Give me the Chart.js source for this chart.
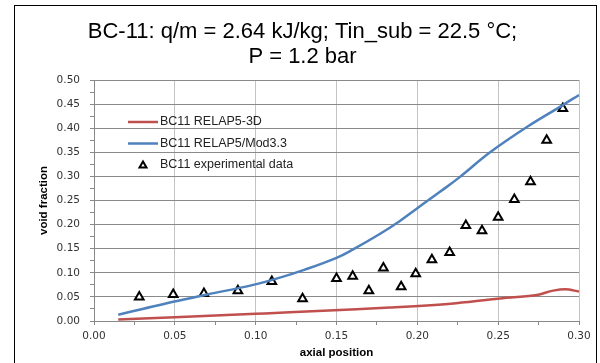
<!DOCTYPE html>
<html>
<head>
<meta charset="utf-8">
<script src="https://cdn.jsdelivr.net/npm/chart.js@4.4.0/dist/chart.umd.min.js"></script>
<style>
  html, body { margin: 0; padding: 0; background: #fff; }
  #wrap { width: 600px; height: 363px; }
</style>
</head>
<body>
<div id="wrap"><canvas id="c" width="600" height="363"></canvas></div>
<script>
// data
const titleLines = ['BC-11: q/m = 2.64 kJ/kg; Tin_sub = 22.5 °C;', 'P = 1.2 bar'];
const seriesNames = ['BC11 RELAP5-3D', 'BC11 RELAP5/Mod3.3', 'BC11 experimental data'];

const redX = [0.015, 0.05, 0.10, 0.121, 0.152, 0.183, 0.224, 0.255, 0.274, 0.284, 0.2915, 0.30];
const redY = [0.003, 0.008, 0.015, 0.018, 0.023, 0.028, 0.037, 0.048, 0.054, 0.063, 0.066, 0.061];

const blueX = [0.015, 0.03, 0.049, 0.07, 0.0985, 0.115, 0.13, 0.15, 0.16, 0.177, 0.189, 0.200, 0.214, 0.226, 0.245, 0.268, 0.29, 0.30];
const blueY = [0.013, 0.025, 0.040, 0.055, 0.075, 0.090, 0.106, 0.131, 0.148, 0.181, 0.207, 0.234, 0.268, 0.298, 0.350, 0.403, 0.448, 0.469];

const expX = [0.028, 0.049, 0.068, 0.089, 0.110, 0.129, 0.150, 0.160, 0.170, 0.179, 0.190, 0.199, 0.209, 0.220, 0.230, 0.240, 0.250, 0.260, 0.270, 0.280, 0.290];
const expY = [0.050, 0.055, 0.057, 0.063, 0.082, 0.046, 0.088, 0.093, 0.063, 0.110, 0.071, 0.098, 0.127, 0.142, 0.198, 0.187, 0.215, 0.252, 0.289, 0.375, 0.441];

const toPoints = (xs, ys) => xs.map((x, i) => ({ x: x, y: ys[i] }));

const FONT = 'Liberation Sans, Arial, sans-serif';
const TICK_FONT = 'DejaVu Sans, Verdana, sans-serif';

// outer frame like the spreadsheet chart border
const framePlugin = {
    id: 'frame',
    afterDraw(chart) {
        const ctx = chart.ctx;
        ctx.save();
        ctx.strokeStyle = '#000';
        ctx.lineWidth = 1;
        ctx.strokeRect(14.5, 5.5, 582, 380);
        ctx.restore();
    }
};

// legend drawn inside the plot, upper left
const innerLegend = {
    id: 'innerLegend',
    afterDatasetsDraw(chart) {
        const ctx = chart.ctx;
        const a = chart.chartArea;
        ctx.save();
        ctx.font = '12.5px ' + FONT;
        ctx.fillStyle = '#222';
        ctx.textBaseline = 'middle';
        chart.data.datasets.forEach((ds, i) => {
            const y = a.top + 42 + i * 21.5;
            if (ds.showLine) {
                ctx.strokeStyle = ds.borderColor;
                ctx.lineWidth = 2.5;
                ctx.beginPath();
                ctx.moveTo(a.left + 34, y);
                ctx.lineTo(a.left + 64, y);
                ctx.stroke();
            } else {
                const cx = a.left + 49;
                ctx.strokeStyle = '#000';
                ctx.lineWidth = 2;
                ctx.fillStyle = '#fff';
                ctx.beginPath();
                ctx.moveTo(cx, y - 3.5);
                ctx.lineTo(cx + 3.5, y + 2.5);
                ctx.lineTo(cx - 3.5, y + 2.5);
                ctx.closePath();
                ctx.fill();
                ctx.stroke();
                ctx.fillStyle = '#222';
            }
            ctx.fillText(ds.label, a.left + 66, y);
        });
        ctx.restore();
    }
};

const minorParity = (c) => c.index % 2 === 1;

new Chart(document.getElementById('c'), {
    type: 'scatter',
    data: {
        datasets: [
            {
                label: seriesNames[0],
                data: toPoints(redX, redY),
                showLine: true,
                borderColor: '#C0504D',
                borderWidth: 2.5,
                pointRadius: 0,
                cubicInterpolationMode: 'monotone'
            },
            {
                label: seriesNames[1],
                data: toPoints(blueX, blueY),
                showLine: true,
                borderColor: '#4F81BD',
                borderWidth: 2.5,
                pointRadius: 0,
                tension: 0.4
            },
            {
                label: seriesNames[2],
                data: toPoints(expX, expY),
                showLine: false,
                pointStyle: 'triangle',
                pointRadius: 5,
                pointBorderWidth: 2,
                pointBorderColor: '#000',
                pointBackgroundColor: '#fff'
            }
        ]
    },
    options: {
        responsive: false,
        animation: false,
        layout: { padding: { left: 26, right: 21, top: 0, bottom: 0 } },
        plugins: {
            legend: { display: false },
            tooltip: { enabled: false },
            title: {
                display: true,
                text: titleLines,
                color: '#000',
                font: { family: FONT, size: 22, weight: 'normal', lineHeight: '25px' },
                padding: { top: 19, bottom: 11 }
            }
        },
        scales: {
            x: {
                type: 'linear',
                min: 0,
                max: 0.30,
                afterFit(scale) { scale.height = 42; },
                ticks: {
                    stepSize: 0.025,
                    autoSkip: false,
                    maxRotation: 0,
                    color: '#333',
                    font: { family: TICK_FONT, size: 10.5 },
                    padding: 5,
                    callback: (v, i) => i % 2 === 0 ? v.toFixed(2) : ''
                },
                grid: {
                    color: c => minorParity(c) ? 'rgba(0,0,0,0)' : '#c4c4c4',
                    tickColor: '#888',
                    tickLength: 4,
                    lineWidth: 1
                },
                border: { color: '#888' },
                title: {
                    display: true,
                    text: 'axial position',
                    color: '#000',
                    font: { family: FONT, size: 11.5, weight: 'bold' },
                    padding: { top: 0, bottom: 3 }
                }
            },
            y: {
                type: 'linear',
                min: 0,
                max: 0.50,
                afterFit(scale) { scale.width = 68; },
                ticks: {
                    stepSize: 0.025,
                    autoSkip: false,
                    color: '#333',
                    font: { family: TICK_FONT, size: 10.5 },
                    padding: 10,
                    callback: (v, i) => i % 2 === 0 ? v.toFixed(2) : ''
                },
                grid: {
                    color: c => minorParity(c) ? 'rgba(0,0,0,0)' : '#8a8a8a',
                    tickColor: '#888',
                    tickLength: 4,
                    lineWidth: 1
                },
                border: { color: '#888' },
                title: {
                    display: true,
                    text: 'void fraction',
                    color: '#000',
                    font: { family: FONT, size: 11.5, weight: 'bold' },
                    padding: { top: 11, bottom: 0 }
                }
            }
        }
    },
    plugins: [framePlugin, innerLegend]
});
</script>
</body>
</html>
